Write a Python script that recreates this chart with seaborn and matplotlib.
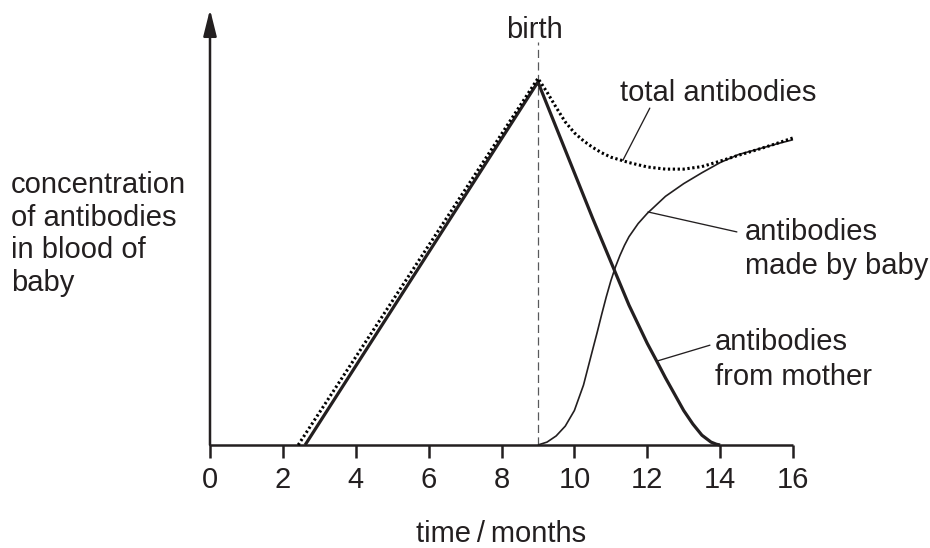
import matplotlib
matplotlib.use("Agg")
import matplotlib.pyplot as plt
import seaborn as sns
import pandas as pd

# ---------------- data ----------------
mother_x = [2.61, 9.0, 9.5, 10.0, 10.5, 11.0, 11.5, 12.0, 12.25, 12.5,
            12.75, 13.0, 13.25, 13.5, 13.75, 13.9, 14.0]
mother_y = [0.0, 10.0, 8.75, 7.5, 6.25, 5.05, 3.85, 2.8, 2.33, 1.85,
            1.4, 0.95, 0.58, 0.27, 0.08, 0.02, 0.0]

baby_x = [9.0, 9.25, 9.5, 9.75, 10.0, 10.25, 10.5, 10.625, 10.75, 10.875,
          11.0, 11.125, 11.25, 11.375, 11.5, 11.75, 12.0, 12.5, 13.0, 13.5,
          14.0, 14.5, 15.0, 15.5, 16.0]
baby_y = [0.0, 0.08, 0.25, 0.52, 0.95, 1.65, 2.62, 3.1, 3.6, 4.08,
          4.52, 4.9, 5.22, 5.5, 5.74, 6.1, 6.38, 6.85, 7.2, 7.5,
          7.78, 8.0, 8.14, 8.28, 8.41]

total_x = [2.42, 9.0, 9.25, 9.5, 9.75, 10.0, 10.25, 10.5, 10.75, 11.0,
           11.5, 12.0, 12.5, 13.0, 13.5, 14.0, 14.5, 15.0, 15.5, 16.0]
total_y = [0.0, 10.1, 9.72, 9.3, 8.9, 8.6, 8.38, 8.2, 8.05, 7.93,
           7.78, 7.66, 7.6, 7.6, 7.67, 7.82, 7.98, 8.13, 8.29, 8.46]

tick_values = [0, 2, 4, 6, 8, 10, 12, 14, 16]
tick_labels = ["0", "2", "4", "6", "8", "10", "12", "14", "16"]
birth_month = 9

ylabel_lines = ["concentration", "of antibodies", "in blood of", "baby"]
xlabel_text = "time\u2009/\u2009months"
label_total = "total antibodies"
label_baby = ["antibodies", "made by baby"]
label_mother = ["antibodies", "from mother"]
label_birth = "birth"

# ---------------- styling ----------------
sns.set_theme(style="white")
plt.rcParams["font.family"] = ["Liberation Sans", "DejaVu Sans"]
INK = "#231f20"
GREY = "#58595b"
FS = 21

W, H = 930, 548
fig = plt.figure(figsize=(W / 100, H / 100), dpi=100)
fig.patch.set_facecolor("white")
# x: 0 -> px 210, 16 -> px 793 ; y: 0 -> px 445, 12 -> px 9.4
ax = fig.add_axes([210 / W, 1 - 445 / H, (793 - 210) / W, (445 - 9.4) / H])
ax.set_facecolor("white")

df_m = pd.DataFrame({"x": mother_x, "y": mother_y})
df_b = pd.DataFrame({"x": baby_x, "y": baby_y})
df_t = pd.DataFrame({"x": total_x, "y": total_y})

# birth marker
ax.vlines(birth_month, 0, 11.1, colors=GREY, linewidth=0.9,
          linestyles=[(0, (6.5, 3.5))], zorder=1)

sns.lineplot(data=df_m, x="x", y="y", ax=ax, color=INK, linewidth=2.3,
             estimator=None, sort=True, zorder=3)
sns.lineplot(data=df_b, x="x", y="y", ax=ax, color=INK, linewidth=1.2,
             estimator=None, sort=True, zorder=3)
sns.lineplot(data=df_t, x="x", y="y", ax=ax, color="#000000", linewidth=2.2,
             estimator=None, sort=True, zorder=4)
tot_line = ax.lines[-1]
tot_line.set_linestyle((0, (0.75, 0.85)))
tot_line.set_dash_capstyle("butt")
for ln in ax.lines:
    ln.set_clip_on(False)
    ln.set_solid_capstyle("butt")
    ln.set_solid_joinstyle("round")

ax.set_xlim(0, 16)
ax.set_ylim(0, 12)
ax.set_xlabel("")
ax.set_ylabel("")

for s in ["top", "right", "left"]:
    ax.spines[s].set_visible(False)
ax.spines["bottom"].set_color(INK)
ax.spines["bottom"].set_linewidth(1.8)
ax.spines["bottom"].set_capstyle("butt")

ax.set_xticks(tick_values)
ax.set_xticklabels(tick_labels)
ax.set_yticks([])
ax.tick_params(axis="x", direction="out", length=9.5, width=1.8,
               pad=5.5, labelsize=FS, colors=INK, bottom=True)

# y axis with arrow head
ax.annotate("", xy=(0, 12.0), xytext=(0, 0), xycoords="data",
            arrowprops=dict(arrowstyle="-|>,head_length=0.8,head_width=0.2",
                            lw=1.8, color=INK, shrinkA=0, shrinkB=0,
                            mutation_scale=20),
            annotation_clip=False, zorder=5)

# leader lines
leader = dict(arrowstyle="-", lw=0.95, color=INK, shrinkA=0, shrinkB=0)
ax.annotate("", xy=(11.33, 7.84), xytext=(12.07, 9.28), arrowprops=leader,
            annotation_clip=False)
ax.annotate("", xy=(12.02, 6.42), xytext=(14.46, 5.87), arrowprops=leader,
            annotation_clip=False)
ax.annotate("", xy=(12.26, 2.31), xytext=(13.72, 2.75), arrowprops=leader,
            annotation_clip=False)

# curve labels
ax.text(13.96, 9.48, label_total, ha="center", va="baseline",
        fontsize=FS, color=INK, clip_on=False)
ax.text(14.68, 5.65, label_baby[0], ha="left", va="baseline",
        fontsize=FS, color=INK, clip_on=False)
ax.text(14.68, 4.71, label_baby[1], ha="left", va="baseline",
        fontsize=FS, color=INK, clip_on=False)
ax.text(13.85, 2.62, label_mother[0], ha="left", va="baseline",
        fontsize=FS, color=INK, clip_on=False)
ax.text(13.85, 1.65, label_mother[1], ha="left", va="baseline",
        fontsize=FS, color=INK, clip_on=False)
ax.text(8.9, 11.22, label_birth, ha="center", va="baseline",
        fontsize=FS, color=INK, clip_on=False)

# axis titles
for i, line in enumerate(ylabel_lines):
    fig.text(11 / W, 1 - (193 + 32.7 * i) / H, line, ha="left",
             va="baseline", fontsize=FS, color=INK)
fig.text(501 / W, 1 - 542 / H, xlabel_text, ha="center", va="baseline",
         fontsize=FS, color=INK)

fig.savefig("out.png", dpi=100, facecolor="white")
